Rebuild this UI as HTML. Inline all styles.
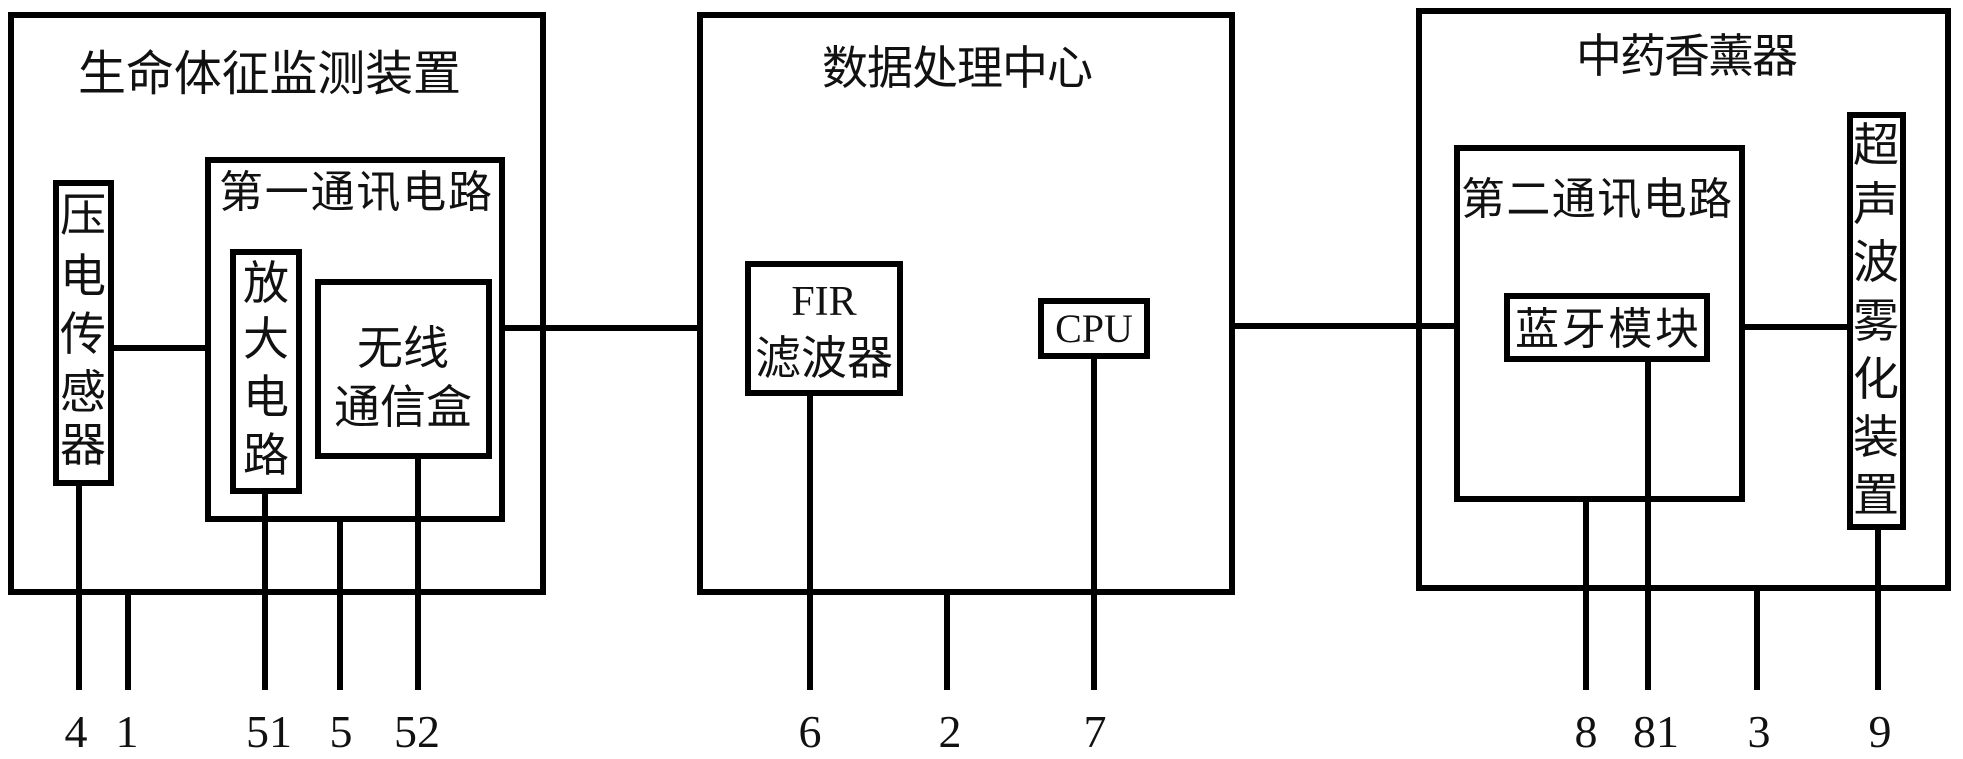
<!DOCTYPE html>
<html><head><meta charset="utf-8"><style>
html,body{margin:0;padding:0;background:#fff;}
svg{display:block;}
.c{font-family:"Liberation Sans","Noto Sans CJK SC",sans-serif;font-size:46px;fill:#111;}
.n{font-family:"Liberation Serif",serif;font-size:46px;fill:#111;}
</style></head><body>
<svg width="1963" height="759" viewBox="0 0 1963 759" xmlns="http://www.w3.org/2000/svg">
<g fill="none" stroke="#000" stroke-width="6">
<!-- left -->
<rect x="11" y="15" width="532" height="577"/>
<rect x="56" y="183" width="55" height="300"/>
<rect x="208" y="160" width="294" height="359"/>
<rect x="233" y="252" width="66" height="239"/>
<rect x="318" y="282" width="171" height="174"/>
<line x1="111" y1="348" x2="208" y2="348"/>
<line x1="502" y1="328" x2="700" y2="328"/>
<line x1="79" y1="483" x2="79" y2="690"/>
<line x1="128" y1="592" x2="128" y2="690"/>
<line x1="265" y1="491" x2="265" y2="690"/>
<line x1="340" y1="519" x2="340" y2="690"/>
<line x1="418" y1="456" x2="418" y2="690"/>
<!-- middle -->
<rect x="700" y="15" width="532" height="577"/>
<rect x="748" y="264" width="152" height="129"/>
<rect x="1041" y="301" width="106" height="55"/>
<line x1="1232" y1="326" x2="1455" y2="326"/>
<line x1="810" y1="393" x2="810" y2="690"/>
<line x1="947" y1="592" x2="947" y2="690"/>
<line x1="1094" y1="356" x2="1094" y2="690"/>
<!-- right -->
<rect x="1419" y="11" width="529" height="577"/>
<rect x="1457" y="148" width="285" height="351"/>
<rect x="1507" y="296" width="200" height="63"/>
<rect x="1850" y="115" width="53" height="412"/>
<line x1="1742" y1="327" x2="1850" y2="327"/>
<line x1="1586" y1="499" x2="1586" y2="690"/>
<line x1="1648" y1="359" x2="1648" y2="690"/>
<line x1="1757" y1="588" x2="1757" y2="690"/>
<line x1="1878" y1="527" x2="1878" y2="690"/>
</g>
<g class="c">
<text x="78" y="90" textLength="383" lengthAdjust="spacing" style="font-size:48px">生命体征监测装置</text>
<text x="219" y="207" textLength="273" lengthAdjust="spacing" style="font-size:44px">第一通讯电路</text>
<g text-anchor="middle">
<text x="83" y="231">压</text><text x="83" y="292">电</text><text x="83" y="350">传</text><text x="83" y="408">感</text><text x="83" y="461">器</text>
<text x="266" y="299">放</text><text x="266" y="355">大</text><text x="266" y="413">电</text><text x="266" y="471">路</text>
<text x="403" y="364">无线</text>
<text x="403" y="423">通信盒</text>
<text x="824" y="315" style="font-family:'Liberation Serif',serif;font-size:42px">FIR</text>
<text x="824" y="374">滤波器</text>
<text x="1094" y="342" style="font-family:'Liberation Serif',serif;font-size:40px">CPU</text>
<text x="1876" y="161">超</text><text x="1876" y="220">声</text><text x="1876" y="278">波</text><text x="1876" y="337">雾</text><text x="1876" y="395">化</text><text x="1876" y="453">装</text><text x="1876" y="511">置</text>
</g>
<text x="822" y="84" textLength="271" lengthAdjust="spacing">数据处理中心</text>
<text x="1576" y="72" textLength="222" lengthAdjust="spacing">中药香薰器</text>
<text x="1461" y="214" textLength="271" lengthAdjust="spacing" style="font-size:44px">第二通讯电路</text>
<text x="1515" y="344" textLength="184" lengthAdjust="spacing" style="font-size:44px">蓝牙模块</text>
</g>
<g class="n" text-anchor="middle">
<text x="76" y="747">4</text><text x="127" y="747">1</text><text x="269" y="747">51</text><text x="341" y="747">5</text><text x="417" y="747">52</text>
<text x="810" y="747">6</text><text x="950" y="747">2</text><text x="1095" y="747">7</text>
<text x="1586" y="747">8</text><text x="1656" y="747">81</text><text x="1759" y="747">3</text><text x="1880" y="747">9</text>
</g>
</svg>
</body></html>
